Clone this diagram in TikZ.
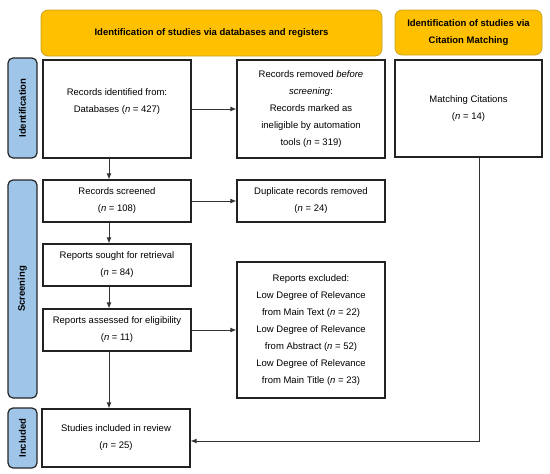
\documentclass[tikz,border=0pt]{standalone}
\usepackage{fontspec}
\setmainfont{Liberation Sans}
\usetikzlibrary{arrows.meta}
\definecolor{hdrfill}{HTML}{FFC000}
\definecolor{hdrline}{HTML}{C9A227}
\definecolor{barfill}{HTML}{9FC5E8}
\definecolor{barline}{HTML}{262626}
\definecolor{boxline}{HTML}{222222}
\definecolor{arrline}{HTML}{333333}
\begin{document}
\begin{tikzpicture}[x=1pt,y=-1pt,
  txt/.style={font=\fontsize{9.5}{17}\selectfont, align=center, text=black},
  box/.style={txt, draw=boxline, line width=1.2pt, fill=white, inner sep=0pt},
  hdr/.style={txt, font=\fontsize{9.5}{17}\selectfont\bfseries, draw=hdrline, line width=0.8pt, fill=hdrfill, rounded corners=7pt, inner sep=0pt},
  bar/.style={font=\fontsize{9.5}{12}\selectfont\bfseries, draw=barline, line width=1.2pt, fill=barfill, rounded corners=5pt, inner sep=0pt},
  arr/.style={draw=arrline, line width=0.9pt, -{Latex[length=6pt,width=5pt]}}]
\useasboundingbox (0,0) rectangle (550,474);

% headers
\node[hdr, minimum width=341, minimum height=46] (h1) at (211.5,33) {Identification of studies via databases and registers};
\node[hdr, minimum width=147, minimum height=45] (h2) at (468.5,32.5) {Identification of studies via\\Citation Matching};

% side bars
\node[bar, minimum width=29, minimum height=100] (s1) at (22.5,108) {};
\node[rotate=90, font=\fontsize{9.5}{12}\selectfont\bfseries] (s1t) at (s1.center) {Identification};
\node[bar, minimum width=29, minimum height=218] (s2) at (22.5,289) {};
\node[rotate=90, font=\fontsize{9.5}{12}\selectfont\bfseries] (s2t) at (s2.center) {Screening};
\node[bar, minimum width=29, minimum height=60] (s3) at (22.5,438) {};
\node[rotate=90, font=\fontsize{9.5}{12}\selectfont\bfseries] (s3t) at (s3.center) {Included};

% boxes
\node[box, minimum width=148, minimum height=98] (A) at (117,109) {Records identified from:\\Databases (\textit{n} = 427)\\\mbox{}};
\node[box, minimum width=148, minimum height=98] (B) at (311,109) {Records removed \textit{before}\\\textit{screening}:\\Records marked as\\ineligible by automation\\tools (\textit{n} = 319)};
\node[box, minimum width=147, minimum height=97] (C) at (468.5,108.5) {Matching Citations\\(\textit{n} = 14)};
\node[box, minimum width=148, minimum height=42] (D) at (117,201) {Records screened\\(\textit{n} = 108)};
\node[box, minimum width=148, minimum height=42] (E) at (311,201) {Duplicate records removed\\(\textit{n} = 24)};
\node[box, minimum width=148, minimum height=42] (F) at (117,265) {Reports sought for retrieval\\(\textit{n} = 84)};
\node[box, minimum width=148, minimum height=136] (G) at (311,330) {Reports excluded:\\Low Degree of Relevance\\from Main Text (\textit{n} = 22)\\Low Degree of Relevance\\from Abstract (\textit{n} = 52)\\Low Degree of Relevance\\from Main Title (\textit{n} = 23)};
\node[box, minimum width=148, minimum height=42] (H) at (117,330) {Reports assessed for eligibility\\(\textit{n} = 11)};
\node[box, minimum width=148, minimum height=58] (I) at (116,438) {Studies included in review\\(\textit{n} = 25)};

% connectors
\coordinate (col) at (109,0);
\coordinate (turn) at (479,441);
\draw[arr] (A) -- (B);
\draw[arr] (D) -- (E);
\draw[arr] (H) -- (G);
\draw[arr] (col |- A.south) -- (col |- D.north);
\draw[arr] (col |- D.south) -- (col |- F.north);
\draw[arr] (col |- F.south) -- (col |- H.north);
\draw[arr] (col |- H.south) -- (col |- I.north);
\draw[arr] (turn |- C.south) -- (turn) -- (turn -| I.east);
\end{tikzpicture}
\end{document}
